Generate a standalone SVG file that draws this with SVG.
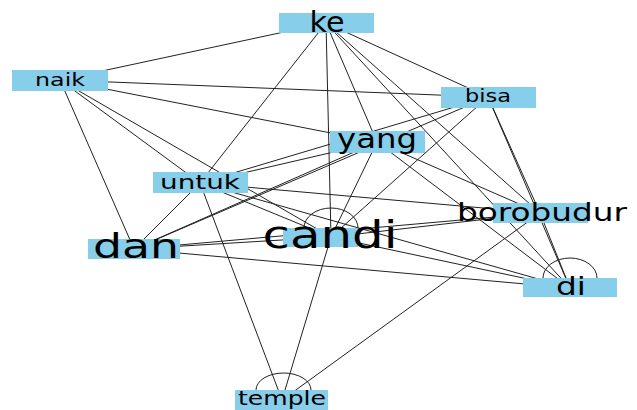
<svg xmlns="http://www.w3.org/2000/svg" width="637" height="410" viewBox="0 0 637 410">
<style>
.e{stroke:#222;stroke-width:1;fill:none}
.n{fill:#87ceeb}
.t{font-family:"DejaVu Sans",sans-serif;fill:#000;text-anchor:middle}
</style>
<rect width="637" height="410" fill="#fff"/>
<g id="connectors">
<line class="e" x1="326" y1="23" x2="60" y2="80"/>
<line class="e" x1="326" y1="23" x2="200" y2="183"/>
<line class="e" x1="326" y1="23" x2="331" y2="237"/>
<line class="e" x1="326" y1="23" x2="377" y2="142"/>
<line class="e" x1="326" y1="23" x2="488" y2="97"/>
<line class="e" x1="326" y1="23" x2="540" y2="213"/>
<line class="e" x1="326" y1="23" x2="570" y2="288"/>
<line class="e" x1="60" y1="80" x2="488" y2="97"/>
<line class="e" x1="60" y1="80" x2="377" y2="142"/>
<line class="e" x1="60" y1="80" x2="200" y2="183"/>
<line class="e" x1="60" y1="80" x2="331" y2="237"/>
<line class="e" x1="60" y1="80" x2="134" y2="249"/>
<line class="e" x1="488" y1="97" x2="200" y2="183"/>
<line class="e" x1="488" y1="97" x2="134" y2="249"/>
<line class="e" x1="488" y1="97" x2="331" y2="237"/>
<line class="e" x1="488" y1="97" x2="540" y2="213"/>
<line class="e" x1="488" y1="97" x2="570" y2="288"/>
<line class="e" x1="377" y1="142" x2="200" y2="183"/>
<line class="e" x1="377" y1="142" x2="134" y2="249"/>
<line class="e" x1="377" y1="142" x2="331" y2="237"/>
<line class="e" x1="377" y1="142" x2="540" y2="213"/>
<line class="e" x1="377" y1="142" x2="570" y2="288"/>
<line class="e" x1="200" y1="183" x2="331" y2="237"/>
<line class="e" x1="200" y1="183" x2="540" y2="213"/>
<line class="e" x1="200" y1="183" x2="570" y2="288"/>
<line class="e" x1="200" y1="183" x2="134" y2="249"/>
<line class="e" x1="200" y1="183" x2="282" y2="400"/>
<line class="e" x1="331" y1="237" x2="540" y2="213"/>
<line class="e" x1="331" y1="237" x2="570" y2="288"/>
<line class="e" x1="331" y1="237" x2="282" y2="400"/>
<line class="e" x1="331" y1="237" x2="134" y2="249"/>
<line class="e" x1="134" y1="249" x2="540" y2="213"/>
<line class="e" x1="134" y1="249" x2="570" y2="288"/>
<line class="e" x1="540" y1="213" x2="282" y2="400"/>
<line class="e" x1="540" y1="213" x2="570" y2="288"/>
<path class="e" d="M 304 228 A 27 20 0 1 1 358 228"/>
<path class="e" d="M 543 278 A 27 20 0 1 1 597 278"/>
<path class="e" d="M 256 390 A 27.5 17 0 1 1 311 390"/>
</g>
<g id="node-ke"><rect class="n" x="279" y="13" width="95" height="20"/><text class="t" x="327" y="32" font-size="28" textLength="35" lengthAdjust="spacingAndGlyphs">ke</text></g>
<g id="node-naik"><rect class="n" x="12" y="70" width="96" height="21"/><text class="t" x="60" y="86" font-size="17" textLength="50" lengthAdjust="spacingAndGlyphs">naik</text></g>
<g id="node-bisa"><rect class="n" x="441" y="87" width="95" height="21"/><text class="t" x="488" y="102" font-size="18" textLength="46" lengthAdjust="spacingAndGlyphs">bisa</text></g>
<g id="node-yang"><rect class="n" x="330" y="131" width="95" height="22"/><text class="t" x="377" y="148" font-size="26" textLength="80" lengthAdjust="spacingAndGlyphs">yang</text></g>
<g id="node-untuk"><rect class="n" x="153" y="172" width="95" height="21"/><text class="t" x="200" y="189" font-size="20" textLength="80" lengthAdjust="spacingAndGlyphs">untuk</text></g>
<g id="node-borobudur"><rect class="n" x="493" y="203" width="95" height="20"/><text class="t" x="542" y="221" font-size="24" textLength="170" lengthAdjust="spacingAndGlyphs">borobudur</text></g>
<g id="node-candi"><rect class="n" x="283" y="228" width="75" height="19"/><text class="t" x="330" y="248" font-size="37" textLength="135" lengthAdjust="spacingAndGlyphs">candi</text></g>
<g id="node-dan"><rect class="n" x="88" y="239" width="92" height="20"/><text class="t" x="136" y="258" font-size="34" textLength="86" lengthAdjust="spacingAndGlyphs">dan</text></g>
<g id="node-di"><rect class="n" x="523" y="278" width="94" height="19"/><text class="t" x="571" y="295" font-size="24" textLength="30" lengthAdjust="spacingAndGlyphs">di</text></g>
<g id="node-temple"><rect class="n" x="235" y="390" width="93" height="20"/><text class="t" x="282" y="405" font-size="19" textLength="88" lengthAdjust="spacingAndGlyphs">temple</text></g>
</svg>
